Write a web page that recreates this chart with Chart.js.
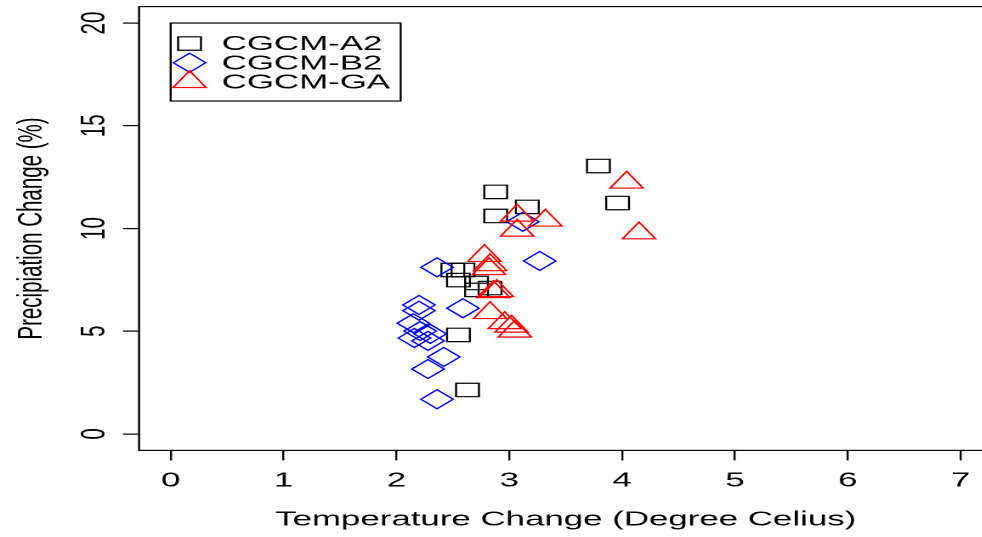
<!DOCTYPE html>
<html>
<head>
<meta charset="utf-8">
<script src="https://cdn.jsdelivr.net/npm/chart.js@4.4.1/dist/chart.umd.min.js"></script>
<style>
  html, body { margin: 0; padding: 0; background: #fff; overflow: hidden; width: 982px; height: 537px; }
  /* the reference is stretched sideways, so the whole canvas is too */
  #wrap { width: 600px; height: 537px; transform: scaleX(1.7); transform-origin: 0 0; }
  #myChart { width: 600px; height: 537px; display: block; }
</style>
</head>
<body>
<div id="wrap"><canvas id="myChart" width="600" height="537"></canvas></div>
<script>
// values
const a2Temp   = [3.79, 3.96, 2.88, 3.16, 2.88, 2.50, 2.59, 2.55, 2.71, 2.71, 2.83, 2.55, 2.63];
const a2Precip = [13.04, 11.24, 11.78, 11.05, 10.61, 7.98, 7.98, 7.49, 7.35, 7.01, 7.10, 4.82, 2.14];

const b2Temp   = [2.36, 3.27, 3.12, 2.59, 2.20, 2.20, 2.15, 2.21, 2.30, 2.16, 2.28, 2.42, 2.28, 2.36];
const b2Precip = [8.11, 8.42, 10.33, 6.12, 6.28, 6.00, 5.39, 5.01, 4.87, 4.67, 4.53, 3.75, 3.16, 1.69];

const gaTemp   = [4.04, 4.15, 3.32, 3.07, 3.07, 2.78, 2.83, 2.82, 2.89, 2.86, 2.83, 2.96, 3.02, 3.05];
const gaPrecip = [12.24, 9.77, 10.39, 10.63, 9.90, 8.67, 8.22, 8.03, 6.96, 6.91, 5.89, 5.40, 5.23, 4.99];

const seriesNames = ["CGCM-A2", "CGCM-B2", "CGCM-GA"];
const xTicks = [0, 1, 2, 3, 4, 5, 6, 7];
const yTicks = [0, 5, 10, 15, 20];

const FONT = "'Liberation Sans', Arial, sans-serif";

const toPoints = (xs, ys) => xs.map((x, i) => ({ x: x, y: ys[i] }));

// draws a legend mark the same way chart.js draws its points
const drawMark = (ctx, style, x, y, r) => {
  ctx.beginPath();
  if (style === "rect") {
    const s = Math.SQRT1_2 * r;
    ctx.rect(x - s, y - s, 2 * s, 2 * s);
  } else if (style === "rectRot") {
    ctx.moveTo(x - r, y);
    ctx.lineTo(x, y - r);
    ctx.lineTo(x + r, y);
    ctx.lineTo(x, y + r);
    ctx.closePath();
  } else {
    const h = r * Math.sqrt(3) / 2;
    ctx.moveTo(x, y - r);
    ctx.lineTo(x + h, y + r / 2);
    ctx.lineTo(x - h, y + r / 2);
    ctx.closePath();
  }
  ctx.stroke();
};

const boxAndLegend = {
  id: "boxAndLegend",
  afterDraw(chart) {
    const { ctx, chartArea, scales } = chart;
    ctx.save();
    ctx.strokeStyle = "#000";
    ctx.lineWidth = 1.2;
    ctx.strokeRect(chartArea.left, chartArea.top, chartArea.right - chartArea.left, chartArea.bottom - chartArea.top);

    // y tick labels run upwards like in R
    ctx.fillStyle = "#000";
    ctx.font = "20.5px " + FONT;
    ctx.textAlign = "center";
    ctx.textBaseline = "middle";
    scales.y.ticks.forEach((t) => {
      ctx.save();
      ctx.translate(56, scales.y.getPixelForValue(t.value));
      ctx.rotate(-Math.PI / 2);
      ctx.fillText(String(t.value), 0, 0);
      ctx.restore();
    });

    // legend, top-left corner at (0, 20)
    const lx = scales.x.getPixelForValue(0);
    const ly = scales.y.getPixelForValue(20);
    ctx.lineWidth = 1.2;
    ctx.strokeRect(lx, ly, 135.3, 78);
    ctx.textAlign = "left";
    chart.data.datasets.forEach((ds, i) => {
      const rowY = ly + 20.5 + i * 19.2;
      ctx.strokeStyle = ds.borderColor;
      drawMark(ctx, ds.pointStyle, lx + 11.1, rowY, ds.pointRadius);
      ctx.fillStyle = "#000";
      ctx.fillText(ds.label, lx + 30, rowY + 1);
    });
    ctx.restore();
  },
};

const ctx = document.getElementById("myChart");

new Chart(ctx, {
  type: "scatter",
  data: {
    datasets: [
      {
        label: seriesNames[0],
        data: toPoints(a2Temp, a2Precip),
        pointStyle: "rect",
        pointRadius: 9.5,
        borderColor: "#000000",
        backgroundColor: "rgba(0,0,0,0)",
        borderWidth: 1.2,
        order: 2,
      },
      {
        label: seriesNames[1],
        data: toPoints(b2Temp, b2Precip),
        pointStyle: "rectRot",
        pointRadius: 9.5,
        borderColor: "#0000ff",
        backgroundColor: "rgba(0,0,0,0)",
        borderWidth: 1.2,
        order: 1,
      },
      {
        label: seriesNames[2],
        data: toPoints(gaTemp, gaPrecip),
        pointStyle: "triangle",
        pointRadius: 11.2,
        borderColor: "#ff0000",
        backgroundColor: "rgba(0,0,0,0)",
        borderWidth: 1.2,
        order: 0,
      },
    ],
  },
  options: {
    responsive: false,
    maintainAspectRatio: false,
    animation: false,
    devicePixelRatio: 2,
    events: [],
    layout: { autoPadding: false, padding: { top: 6.6, right: 16.3, bottom: 0, left: 0 } },
    plugins: {
      legend: { display: false },
      tooltip: { enabled: false },
    },
    scales: {
      x: {
        type: "linear",
        min: -0.28,
        max: 7.28,
        afterBuildTicks: (s) => { s.ticks = xTicks.map((v) => ({ value: v })); },
        afterFit: (s) => { s.height = 86.6; },
        grid: { drawOnChartArea: false, drawTicks: true, tickLength: 10, color: "#000", lineWidth: 1.2 },
        border: { display: false },
        ticks: { color: "#000", font: { size: 20.5, family: FONT }, padding: 8, maxRotation: 0 },
        title: {
          display: true,
          text: "Temperature Change (Degree Celius)",
          color: "#000",
          font: { size: 20.5, family: FONT },
          padding: { top: 0, bottom: 5 },
        },
      },
      y: {
        type: "linear",
        min: -0.8,
        max: 20.8,
        afterBuildTicks: (s) => { s.ticks = yTicks.map((v) => ({ value: v })); },
        afterFit: (s) => { s.width = 81.8; },
        grid: { drawOnChartArea: false, drawTicks: true, tickLength: 9.5, color: "#000", lineWidth: 1.2 },
        border: { display: false },
        ticks: { display: false },
        title: {
          display: true,
          text: "Precipiation Change (%)",
          color: "#000",
          font: { size: 20.5, family: FONT },
          padding: { top: 6.5, bottom: 0 },
        },
      },
    },
  },
  plugins: [boxAndLegend],
});
</script>
</body>
</html>
